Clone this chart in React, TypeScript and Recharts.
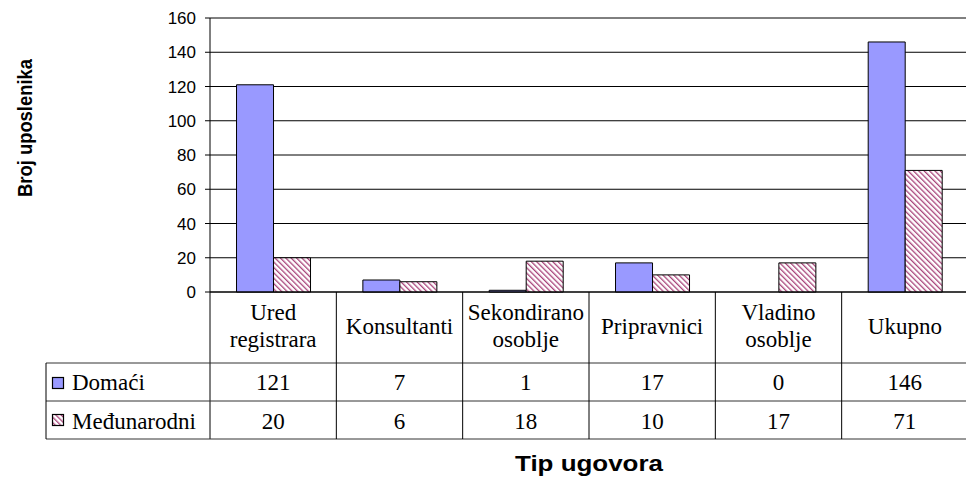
import React from 'react';
import { BarChart, Bar, XAxis, YAxis, CartesianGrid } from 'recharts';

const categories = ['Ured registrara', 'Konsultanti', 'Sekondirano osoblje', 'Pripravnici', 'Vladino osoblje', 'Ukupno'];
const domaci = [121, 7, 1, 17, 0, 146];
const medjunarodni = [20, 6, 18, 10, 17, 71];
const yTicks = [0, 20, 40, 60, 80, 100, 120, 140, 160];
const seriesNames = ['Domaći', 'Međunarodni'];

const data = categories.map((c, i) => ({ name: c, domaci: domaci[i], medjunarodni: medjunarodni[i] }));

const CHART_W = 968;
const CHART_H = 477;
const Y_AXIS_W = 60;
const X_AXIS_H = 185;
const MARGIN = { top: 18, right: 0, left: 210 - Y_AXIS_W, bottom: 0 };
const BAND = (CHART_W - 210 - MARGIN.right) / categories.length;
const TABLE_LEFT = 46;
const SERIF = '"Liberation Serif", "Times New Roman", serif';
const SANS = '"Liberation Sans", Arial, sans-serif';
const BLUE = '#9999FF';
const LINE = '#000';
const FS = 23;

function CategoryTick(props: any) {
  const { x, index, payload } = props;
  const top = CHART_H - X_AXIS_H;
  const left = x - BAND / 2;
  const r1 = top + 71;
  const r2 = top + 109;
  const r3 = top + 147;
  const words = String(payload.value).split(' ');
  return (
    <g>
      <line x1={left} y1={top} x2={left} y2={r3} stroke={LINE} strokeWidth={1} />
      {index === 0 && (
        <g>
          <line x1={TABLE_LEFT} y1={r1} x2={CHART_W} y2={r1} stroke="#333" strokeWidth={1} />
          <line x1={TABLE_LEFT} y1={r2} x2={CHART_W} y2={r2} stroke="#333" strokeWidth={1} />
          <line x1={TABLE_LEFT} y1={r3} x2={CHART_W} y2={r3} stroke="#333" strokeWidth={1} />
          <line x1={TABLE_LEFT} y1={r1} x2={TABLE_LEFT} y2={r3} stroke={LINE} strokeWidth={1} />
          <rect x={52.5} y={r1 + 14.5} width={11} height={11} fill={BLUE} stroke="#000" strokeWidth={1.2} />
          <text x={72} y={r1 + 27} fontFamily={SERIF} fontSize={FS} fill="#000">{seriesNames[0]}</text>
          <rect x={52.5} y={r2 + 13.5} width={11} height={11} fill="url(#hatch)" stroke="#000" strokeWidth={1.2} />
          <text x={72} y={r2 + 28} fontFamily={SERIF} fontSize={FS} fill="#000">{seriesNames[1]}</text>
        </g>
      )}
      {words.length > 1 ? (
        <text textAnchor="middle" fontFamily={SERIF} fontSize={FS} fill="#000">
          <tspan x={x} y={top + 28}>{words[0]}</tspan>
          <tspan x={x} y={top + 55}>{words.slice(1).join(' ')}</tspan>
        </text>
      ) : (
        <text x={x} y={top + 42} textAnchor="middle" fontFamily={SERIF} fontSize={FS} fill="#000">{words[0]}</text>
      )}
      <text x={x} y={r1 + 27} textAnchor="middle" fontFamily={SERIF} fontSize={FS} fill="#000">{domaci[index]}</text>
      <text x={x} y={r2 + 28} textAnchor="middle" fontFamily={SERIF} fontSize={FS} fill="#000">{medjunarodni[index]}</text>
      {index === 0 && (
        <g>
          <text x={515} y={471} fontFamily={SANS} fontWeight="bold" fontSize={22} textLength={148} lengthAdjust="spacingAndGlyphs" fill="#000">Tip ugovora</text>
          <text x={0} y={0} transform="translate(32,128) rotate(-90)" textAnchor="middle" fontFamily={SANS} fontWeight="bold" fontSize={20} textLength={138} lengthAdjust="spacingAndGlyphs" fill="#000">Broj uposlenika</text>
        </g>
      )}
    </g>
  );
}

export default function App() {
  return (
    <div style={{ position: 'absolute', left: 0, top: 0, width: 966, height: 477, overflow: 'hidden', background: '#fff' }}>
      <BarChart width={CHART_W} height={CHART_H} data={data} margin={MARGIN} barCategoryGap="21%" barGap={0}>
        <defs>
          <pattern id="hatch" patternUnits="userSpaceOnUse" width={3.8} height={3.8} patternTransform="rotate(-45)">
            <rect x={0} y={0} width={3.8} height={3.8} fill="#fff" />
            <rect x={0} y={0} width={1.3} height={3.8} fill="#a8447a" />
          </pattern>
        </defs>
        <CartesianGrid vertical={false} stroke="#000" strokeOpacity={1} />
        <XAxis
          dataKey="name"
          interval={0}
          height={X_AXIS_H}
          tickLine={false}
          tickSize={0}
          tickMargin={0}
          axisLine={{ stroke: '#000' }}
          tick={<CategoryTick />}
        />
        <YAxis
          domain={[0, 160]}
          ticks={yTicks}
          interval={0}
          width={Y_AXIS_W}
          tickSize={5}
          tickMargin={9}
          axisLine={{ stroke: '#000' }}
          tickLine={{ stroke: '#000' }}
          tick={{ fontFamily: SANS, fontSize: 17, fill: '#000' }}
        />
        <Bar dataKey="domaci" fill={BLUE} stroke="#000" strokeWidth={1} isAnimationActive={false} />
        <Bar dataKey="medjunarodni" fill="url(#hatch)" stroke="#000" strokeWidth={1} isAnimationActive={false} />
      </BarChart>
    </div>
  );
}
